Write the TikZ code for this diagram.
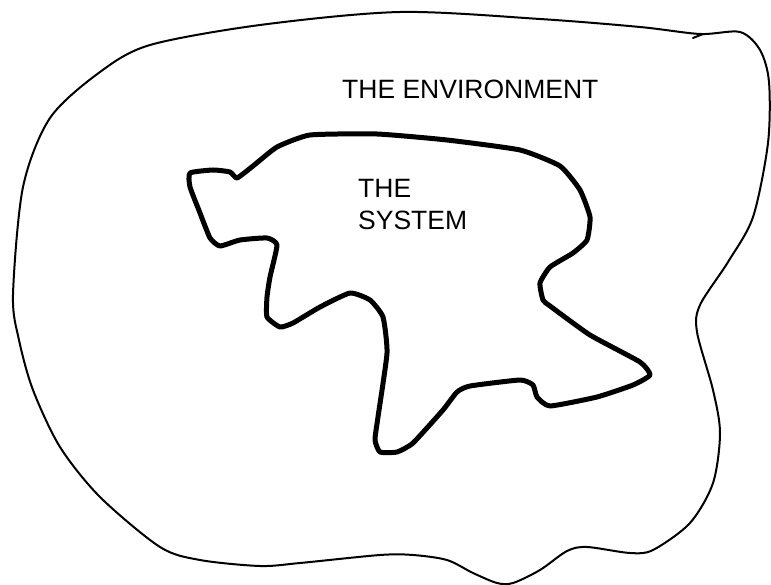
\documentclass[tikz,border=0pt]{standalone}
\usepackage{fontspec}
\setmainfont{Liberation Sans}
\begin{document}
\begin{tikzpicture}[x=1pt,y=-1pt,
  envline/.style={line width=2pt,line join=round,line cap=round},
  sysline/.style={line width=5pt,line join=round,line cap=round},
  lbl/.style={font=\fontsize{26.5}{32}\selectfont,inner sep=0pt,align=left}]
\useasboundingbox (0,0) rectangle (771,585);
% environment boundary
\draw[envline] plot[smooth cycle,tension=0.5] coordinates {
  (13,295) (23,187) (50,118) (100,72) (150,45) (260,25) (400,12) (540,19) (640,27) (700,34)
  (740,32) (760,50) (769,82) (768,143) (753,217) (728,262) (700,305) (697,332) (713,390)
  (720,433) (713,483) (690,523) (653,550) (630,553) (587,547) (567,551) (540,570) (513,583)
  (497,583) (473,573) (447,560) (413,555) (380,555) (300,563) (260,566) (200,560) (160,547)
  (100,497) (60,447) (33,390) (19,340)};
\draw[envline] (693,38) -- (703,34);
% system boundary
\draw[sysline] plot[smooth cycle,tension=0.3] coordinates {
  (190,173) (213,170) (230,172) (237,178) (253,166) (277,147) (310,135) (377,134) (447,140)
  (520,150) (560,166) (580,190) (590,217) (587,240) (573,253) (550,267) (540,283) (543,300)
  (550,306) (590,335) (640,362) (650,375) (633,385) (597,397) (550,406) (537,397) (533,385)
  (520,380) (470,386) (457,392) (443,410) (413,443) (397,452) (380,452) (375,440) (378,417)
  (387,353) (383,317) (370,300) (350,293) (320,307) (293,323) (280,327) (267,317) (267,297)
  (270,277) (277,245) (267,238) (240,240) (220,246) (210,238) (200,213) (190,187)};
\node[lbl,anchor=base west] (env) at (342,99) {THE ENVIRONMENT};
\node[lbl,anchor=base west] (sys) at (358,230) {THE\\SYSTEM};
\end{tikzpicture}
\end{document}
